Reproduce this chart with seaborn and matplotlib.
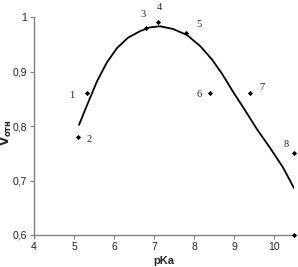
import matplotlib
matplotlib.use("Agg")
import matplotlib.pyplot as plt
import seaborn as sns
import pandas as pd

# measured points (pKa vs relative rate)
pka = [5.33, 5.1, 6.8, 7.1, 7.8, 8.4, 9.4, 10.5, 10.5]
v_rel = [0.86, 0.78, 0.98, 0.99, 0.97, 0.86, 0.86, 0.75, 0.60]
point_labels = ["1", "2", "3", "4", "5", "6", "7", "8", ""]

# trend curve
curve_x = [5.125, 5.325, 5.575, 5.825, 6.075, 6.35, 6.65, 6.9, 7.15, 7.475,
           7.825, 8.15, 8.45, 8.7, 8.975, 9.275, 9.575, 9.9, 10.225, 10.5]
curve_y = [0.802, 0.838, 0.882, 0.917, 0.943, 0.962, 0.974, 0.981, 0.983, 0.978,
           0.967, 0.947, 0.922, 0.896, 0.863, 0.829, 0.794, 0.760, 0.724, 0.686]

xticks = [4, 5, 6, 7, 8, 9, 10]
yticks = [0.6, 0.7, 0.8, 0.9, 1.0]
ytick_labels = ["0,6", "0,7", "0,8", "0,9", "1"]

df_pts = pd.DataFrame({"pKa": pka, "V": v_rel})
df_curve = pd.DataFrame({"pKa": curve_x, "V": curve_y})

sns.set_style("white")
plt.rcParams["font.family"] = ["Liberation Sans", "DejaVu Sans"]

fig = plt.figure(figsize=(2.98, 2.67), dpi=100)
ax = fig.add_axes([34 / 298, 32 / 267, 260 / 298, 218 / 267])

sns.lineplot(data=df_curve, x="pKa", y="V", color="black", linewidth=1.3, ax=ax)
sns.scatterplot(data=df_pts, x="pKa", y="V", color="black", marker="D", s=7,
                edgecolor="black", linewidth=0, clip_on=False, ax=ax, zorder=3)

# label offsets in pixels (dx, dy)
offsets = [(-15, -2), (11, -3), (-3, 13), (1, 15), (13, 9), (-11, -1), (12, 6), (-8, 9), (0, 0)]
for x, y, lab, (dx, dy) in zip(pka, v_rel, point_labels, offsets):
    if lab:
        ax.annotate(lab, (x, y), xytext=(dx * 0.72, dy * 0.72), textcoords="offset points",
                    ha="center", va="center", fontsize=7.5, family="Liberation Serif",
                    annotation_clip=False)

ax.set_xlim(4, 10.5)
ax.set_ylim(0.6, 1.0)
ax.set_xticks(xticks)
ax.set_yticks(yticks)
ax.set_yticklabels(ytick_labels)
ax.tick_params(axis="both", direction="out", length=3, width=0.8, color="#808080",
               labelsize=7.5, labelcolor="#222222", pad=2)
ax.tick_params(axis="both", bottom=True, left=True)

for side in ["top", "right"]:
    ax.spines[side].set_visible(False)
for side in ["left", "bottom"]:
    ax.spines[side].set_color("#808080")
    ax.spines[side].set_linewidth(1.0)

ax.set_xlabel("pKa", fontsize=8, fontweight="bold", labelpad=3)
ax.set_ylabel(r"$\mathbf{V}_{\mathbf{отн}}$", fontsize=8.5)
ax.yaxis.set_label_coords(-0.077, 0.47)

fig.savefig("out.png", dpi=100)
